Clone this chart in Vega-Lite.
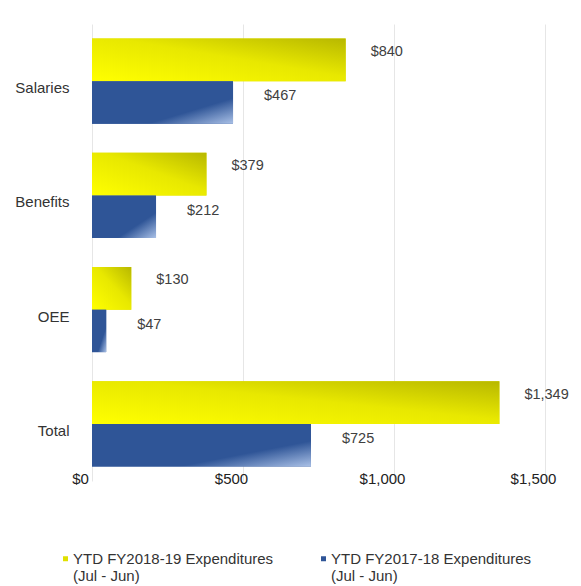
{
  "$schema": "https://vega.github.io/schema/vega-lite/v6.json",
  "autosize": "none",
  "width": 453,
  "height": 457,
  "padding": {"left": 92, "top": 24, "right": 36, "bottom": 105},
  "background": "white",
  "config": {
    "font": "Liberation Sans",
    "view": {"stroke": null},
    "axis": {"labelFont": "Liberation Sans", "labelFontSize": 15, "labelColor": "#333333"},
    "legend": {"labelFont": "Liberation Sans", "labelFontSize": 15, "labelColor": "#333333"}
  },
  "data": {
    "values": [
      {"category": "Salaries", "series": "YTD FY2018-19 Expenditures|(Jul - Jun)", "value": 840},
      {"category": "Salaries", "series": "YTD FY2017-18 Expenditures|(Jul - Jun)", "value": 467},
      {"category": "Benefits", "series": "YTD FY2018-19 Expenditures|(Jul - Jun)", "value": 379},
      {"category": "Benefits", "series": "YTD FY2017-18 Expenditures|(Jul - Jun)", "value": 212},
      {"category": "OEE", "series": "YTD FY2018-19 Expenditures|(Jul - Jun)", "value": 130},
      {"category": "OEE", "series": "YTD FY2017-18 Expenditures|(Jul - Jun)", "value": 47},
      {"category": "Total", "series": "YTD FY2018-19 Expenditures|(Jul - Jun)", "value": 1349},
      {"category": "Total", "series": "YTD FY2017-18 Expenditures|(Jul - Jun)", "value": 725}
    ]
  },
  "encoding": {
    "y": {
      "field": "category",
      "type": "nominal",
      "sort": ["Salaries", "Benefits", "OEE", "Total"],
      "scale": {"paddingInner": 0.256, "paddingOuter": 0.128},
      "axis": {"title": null, "domain": false, "ticks": false, "labelPadding": 23, "labelOffset": 7, "labelBaseline": "middle"}
    },
    "yOffset": {
      "field": "series",
      "type": "nominal",
      "sort": ["YTD FY2018-19 Expenditures|(Jul - Jun)", "YTD FY2017-18 Expenditures|(Jul - Jun)"],
      "scale": {"paddingInner": 0, "paddingOuter": 0}
    },
    "x": {
      "field": "value",
      "type": "quantitative",
      "scale": {"domain": [0, 1500], "nice": false},
      "axis": {
        "title": null,
        "values": [0, 500, 1000, 1500],
        "format": "$,.0f",
        "domain": false,
        "ticks": false,
        "labelFlush": false,
        "labelPadding": -3,
        "labelBaseline": "middle",
        "labelOffset": -12,
        "grid": true,
        "gridColor": "#e6e6e6",
        "labelColor": "#222222"
      }
    }
  },
  "layer": [
    {
      "mark": {"type": "bar"},
      "encoding": {
        "color": {
          "field": "series",
          "type": "nominal",
          "sort": ["YTD FY2018-19 Expenditures|(Jul - Jun)", "YTD FY2017-18 Expenditures|(Jul - Jun)"],
          "scale": {"range": ["#e0e000", "#2f5597"]},
          "legend": {
            "title": null,
            "orient": "none",
            "legendX": -34,
            "legendY": 532,
            "direction": "horizontal",
            "columns": 2,
            "columnPadding": 42,
            "padding": 0,
            "symbolType": "M-1,-3H1V-1H-1Z",
            "symbolSize": 25,
            "symbolStrokeWidth": 0,
            "labelOffset": 0,
            "labelBaseline": "alphabetic",
            "labelLimit": 300,
            "labelExpr": "split(datum.label, '|')"
          }
        }
      }
    },
    {
      "transform": [{"filter": "datum.series == 'YTD FY2018-19 Expenditures|(Jul - Jun)'"}],
      "mark": {
        "type": "bar",
        "fill": {
          "gradient": "linear",
          "x1": 0, "y1": 1, "x2": 1, "y2": 0,
          "stops": [
            {"offset": 0, "color": "#ffff00"},
            {"offset": 0.55, "color": "#e8e800"},
            {"offset": 1, "color": "#b8b800"}
          ]
        }
      }
    },
    {
      "transform": [{"filter": "datum.series == 'YTD FY2017-18 Expenditures|(Jul - Jun)'"}],
      "mark": {
        "type": "bar",
        "fill": {
          "gradient": "linear",
          "x1": 0, "y1": 0, "x2": 1, "y2": 1,
          "stops": [
            {"offset": 0, "color": "#2f5597"},
            {"offset": 0.7, "color": "#2f5597"},
            {"offset": 1, "color": "#a9c0e6"}
          ]
        }
      }
    },
    {
      "transform": [{"filter": "datum.series == 'YTD FY2018-19 Expenditures|(Jul - Jun)'"}],
      "mark": {"type": "text", "align": "left", "baseline": "middle", "dx": 25, "dy": -8, "fontSize": 14.5, "color": "#404040"},
      "encoding": {"text": {"field": "value", "type": "quantitative", "format": "$,.0f"}}
    },
    {
      "transform": [{"filter": "datum.series == 'YTD FY2017-18 Expenditures|(Jul - Jun)'"}],
      "mark": {"type": "text", "align": "left", "baseline": "middle", "dx": 31, "dy": -6, "fontSize": 14.5, "color": "#404040"},
      "encoding": {"text": {"field": "value", "type": "quantitative", "format": "$,.0f"}}
    }
  ]
}
